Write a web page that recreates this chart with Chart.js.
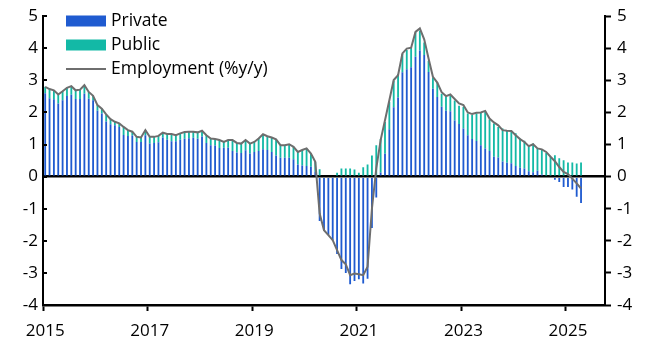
<!DOCTYPE html>
<html><head><meta charset="utf-8">
<script src="https://cdn.jsdelivr.net/npm/chart.js@4.4.1/dist/chart.umd.min.js"></script>
<style>html,body{margin:0;padding:0;background:#fff;}#wrap{width:651px;height:355px;position:relative;}canvas{display:block;}</style>
</head><body><div id="wrap"><canvas id="c" width="651" height="355"></canvas></div>
<script>
// Tick labels
const yearTicks = ['2015','2017','2019','2021','2023','2025'];
// Monthly categories Jan 2015 .. Sep 2025
const months = [];
for (let y = 2015; y <= 2025; y++) for (let m = 1; m <= 12; m++) { if (y === 2025 && m > 9) break; months.push(y + '-' + String(m).padStart(2, '0')); }

// Series (percentage-point contributions, %y/y), Jan 2015 .. Apr 2025
const privateSector = [
 2.60,2.44,2.41,2.28,2.38,2.51,2.55,2.42,2.42,2.58,2.43,2.38,
 2.05,1.97,1.72,1.63,1.60,1.55,1.30,1.27,1.28,1.08,1.08,1.29,
 1.03,1.05,1.07,1.22,1.15,1.10,1.10,1.15,1.18,1.20,1.21,1.18,
 1.25,1.05,0.98,0.97,0.89,0.90,0.90,0.80,0.75,0.74,0.82,0.72,
 0.77,0.80,0.85,0.83,0.77,0.66,0.59,0.59,0.59,0.54,0.38,0.35,
 0.33,0.31,0.15,-1.38,-1.67,-1.82,-1.98,-2.41,-2.88,-3.00,-3.35,-3.25,
 -3.20,-3.33,-3.18,-1.60,-0.65,0.13,0.71,1.48,2.16,2.47,3.25,3.35,
 3.41,3.74,3.93,3.79,3.26,2.74,2.48,2.18,2.05,2.04,1.75,1.64,
 1.50,1.29,1.17,1.11,0.98,0.88,0.80,0.62,0.60,0.47,0.43,0.42,
 0.33,0.28,0.25,0.17,0.14,0.18,0.07,0.00,0.00,-0.10,-0.17,-0.32,
 -0.32,-0.40,-0.63,-0.82
];
const publicSector = [
 0.20,0.29,0.28,0.28,0.28,0.26,0.27,0.27,0.29,0.27,0.21,0.14,
 0.18,0.15,0.22,0.16,0.11,0.11,0.25,0.18,0.12,0.16,0.14,0.16,
 0.21,0.19,0.20,0.15,0.18,0.23,0.19,0.20,0.21,0.20,0.19,0.20,
 0.18,0.24,0.21,0.20,0.25,0.18,0.24,0.34,0.30,0.29,0.32,0.31,
 0.31,0.39,0.47,0.43,0.45,0.50,0.39,0.39,0.42,0.39,0.39,0.48,
 0.55,0.41,0.31,0.23,0.00,0.00,0.00,0.12,0.25,0.25,0.25,0.22,
 0.12,0.29,0.38,0.66,0.98,1.04,0.99,0.85,0.83,0.73,0.57,0.60,
 0.60,0.76,0.62,0.39,0.35,0.35,0.46,0.40,0.44,0.48,0.62,0.57,
 0.68,0.68,0.75,0.86,1.01,1.16,0.98,1.04,0.95,1.03,1.00,1.01,
 1.02,0.91,0.87,0.80,0.89,0.70,0.78,0.74,0.62,0.67,0.57,0.51,
 0.44,0.44,0.41,0.44
];
const employment = [
 2.80,2.73,2.69,2.56,2.66,2.77,2.82,2.69,2.71,2.85,2.64,2.52,
 2.23,2.12,1.94,1.79,1.71,1.66,1.55,1.45,1.40,1.24,1.22,1.45,
 1.24,1.24,1.27,1.37,1.33,1.33,1.29,1.35,1.39,1.40,1.40,1.38,
 1.43,1.29,1.19,1.17,1.14,1.08,1.14,1.14,1.05,1.03,1.14,1.03,
 1.08,1.19,1.32,1.26,1.22,1.16,0.98,0.98,1.01,0.93,0.77,0.83,
 0.88,0.72,0.46,-1.15,-1.67,-1.82,-1.98,-2.29,-2.60,-2.73,-3.07,-3.02,
 -3.04,-3.07,-2.81,-1.00,0.26,1.14,1.76,2.38,3.01,3.16,3.84,3.99,
 4.02,4.51,4.62,4.28,3.68,3.11,2.93,2.63,2.51,2.56,2.42,2.28,
 2.23,2.00,1.95,1.99,2.00,2.05,1.81,1.69,1.60,1.45,1.43,1.42,
 1.29,1.17,1.08,0.95,1.01,0.88,0.85,0.77,0.62,0.48,0.30,0.15,
 0.08,-0.06,-0.21,-0.37
];

const FONT = '"Open Sans", "DejaVu Sans", sans-serif';
const BLUE = '#1f5bd0', TEAL = '#13b9a6', GREY = '#6e6e6e';

function isYearTick(i) {
  const m = months[i];
  return !!m && m.endsWith('-01') && yearTicks.includes(m.slice(0, 4));
}

const legendPlugin = {
  id: 'customLegend',
  afterDraw(chart) {
    const ctx = chart.ctx;
    const ds = chart.data.datasets;
    ctx.save();
    ctx.font = '17.5px ' + FONT;
    ctx.textBaseline = 'middle';
    ctx.textAlign = 'left';
    const rows = [21, 45, 69];
    ds.forEach((d, k) => {
      const y = rows[k];
      if (d.type === 'line') {
        ctx.strokeStyle = d.borderColor; ctx.lineWidth = 2;
        ctx.beginPath(); ctx.moveTo(66, y); ctx.lineTo(106, y); ctx.stroke();
      } else {
        ctx.fillStyle = d.backgroundColor;
        ctx.fillRect(66, y - 5.5, 40, 11);
      }
      ctx.fillStyle = '#000';
      ctx.fillText(d.label, 111, y);
    });
    ctx.restore();
  }
};

const innerTicksPlugin = {
  id: 'innerTicks',
  afterDraw(chart) {
    const s = chart.scales.y, ctx = chart.ctx;
    ctx.save();
    ctx.strokeStyle = '#000'; ctx.lineWidth = 2;
    for (let v = -4; v <= 5; v++) {
      const py = Math.round(s.getPixelForValue(v));
      ctx.beginPath(); ctx.moveTo(chart.chartArea.left, py); ctx.lineTo(chart.chartArea.left + 4, py); ctx.stroke();
    }
    ctx.restore();
  }
};

const barOpts = { barPercentage: 0.42, categoryPercentage: 1.0, maxBarThickness: 2, borderWidth: 0 };

new Chart(document.getElementById('c'), {
  data: {
    labels: months,
    datasets: [
      Object.assign({ type: 'bar', label: 'Private', data: privateSector, backgroundColor: BLUE, stack: 'bars', order: 1, yAxisID: 'y' }, barOpts),
      Object.assign({ type: 'bar', label: 'Public', data: publicSector, backgroundColor: TEAL, stack: 'bars', order: 1, yAxisID: 'y' }, barOpts),
      { type: 'line', label: 'Employment (%y/y)', data: employment, borderColor: GREY, borderWidth: 2, pointRadius: 0, tension: 0, stack: 'line', order: 0, yAxisID: 'y' }
    ]
  },
  options: {
    responsive: false, animation: false, devicePixelRatio: 1,
    layout: { padding: { top: 16, left: 0, right: 0, bottom: 0 } },
    plugins: { legend: { display: false }, tooltip: { enabled: false } },
    scales: {
      x: {
        type: 'category', stacked: true, offset: true,
        grid: { drawOnChartArea: false, offset: true, drawTicks: true, tickLength: 6, tickWidth: 2,
                tickColor: c => isYearTick(c.index) ? '#000' : 'rgba(0,0,0,0)', color: 'rgba(0,0,0,0)' },
        border: { display: true, color: '#000', width: 2.5 },
        ticks: { autoSkip: false, maxRotation: 0, minRotation: 0, padding: 10, color: '#000',
                 font: { family: FONT, size: 17 },
                 callback: (v, i) => isYearTick(i) ? months[i].slice(0, 4) : '' },
        afterFit: s => { s.height = 50; }
      },
      y: {
        position: 'left', stacked: true, min: -4, max: 5,
        ticks: { stepSize: 1, padding: 5, color: '#000', font: { family: FONT, size: 17 } },
        grid: { drawTicks: false,
                color: c => (c.tick && c.tick.value === 0) ? '#000' : 'rgba(0,0,0,0)',
                lineWidth: c => (c.tick && c.tick.value === 0) ? 2.5 : 1 },
        border: { display: true, color: '#000', width: 2 },
        afterFit: s => { s.width = 43; }
      },
      y2: {
        position: 'right', min: -4, max: 5,
        ticks: { stepSize: 1, padding: 6, color: '#000', font: { family: FONT, size: 17 } },
        grid: { drawOnChartArea: false, drawTicks: true, tickLength: 6, tickWidth: 2, tickColor: '#000' },
        border: { display: true, color: '#000', width: 2 },
        afterFit: s => { s.width = 46; }
      }
    }
  },
  plugins: [legendPlugin, innerTicksPlugin]
});
</script></body></html>
